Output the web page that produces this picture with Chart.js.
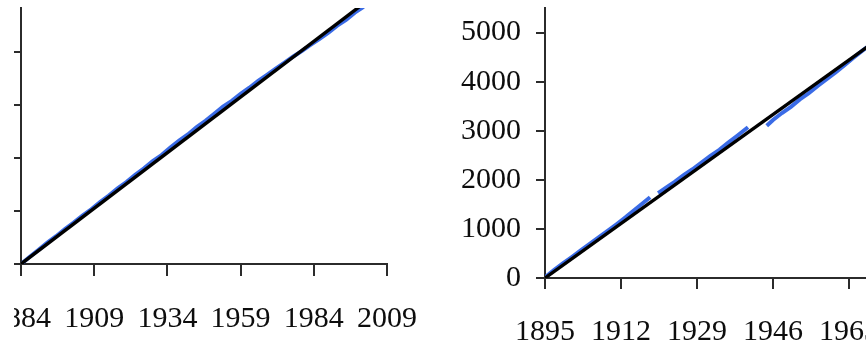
<!DOCTYPE html>
<html>
<head>
<meta charset="utf-8">
<script src="https://cdn.jsdelivr.net/npm/chart.js@4.4.1/dist/chart.umd.min.js"></script>
<style>
  html, body { margin: 0; padding: 0; background: #fff; overflow: hidden; }
  body { width: 866px; height: 347px; position: relative; }
  .panel { position: absolute; top: 0; height: 347px; overflow: hidden; }
  #leftPanel { left: 14px; width: 406px; }
  #leftPanel canvas { position: absolute; left: -74px; top: 0; }
  #rightPanel { left: 420px; width: 446px; }
  #rightPanel canvas { position: absolute; left: 0; top: 0; }
</style>
</head>
<body>
<div class="panel" id="leftPanel"><canvas id="leftChart" width="480" height="347"></canvas></div>
<div class="panel" id="rightPanel"><canvas id="rightChart" width="560" height="347"></canvas></div>
<script>
// ---- left panel: cumulative series vs. fitted trend ----
const leftYearTicks = [1884, 1909, 1934, 1959, 1984, 2009];
const leftValueTicks = [0, 1000, 2000, 3000, 4000];
const leftTrendYears = [1884, 2009];
const leftTrendValues = [0, 5250];
const leftObsYears = [1884, 1887, 1890, 1893, 1896, 1899, 1902, 1905, 1908, 1911, 1914, 1917, 1920, 1923,
  1926, 1929, 1932, 1935, 1938, 1941, 1944, 1947, 1950, 1953, 1956, 1959, 1962, 1965, 1968, 1971,
  1974, 1977, 1980, 1983, 1986, 1989, 1992, 1995, 1998, 2001];
const leftObsValues = [0, 136, 267, 403, 524, 660, 781, 912, 1033, 1169, 1290, 1426, 1547, 1683,
  1804, 1940, 2056, 2197, 2328, 2444, 2585, 2701, 2832, 2968, 3079, 3210, 3326, 3457, 3568, 3684,
  3800, 3916, 4022, 4138, 4249, 4365, 4496, 4607, 4743, 4854];

// ---- right panel: cumulative series with breaks vs. fitted trend ----
const rightYearTicks = [1895, 1912, 1929, 1946, 1963, 1980];
const rightValueTicks = [0, 1000, 2000, 3000, 4000, 5000];
const rightTrendYears = [1895, 1980];
const rightTrendValues = [0, 5551];
const rightObsYears = [1895, 1897, 1899, 1901, 1903, 1905, 1907, 1909, 1911, 1913, 1915, 1917, 1918.5,
  1919.5,
  1920.3, 1922, 1924, 1926, 1928, 1930, 1932, 1934, 1936, 1938, 1940.4,
  1942.5,
  1944.6, 1946, 1948, 1950, 1952, 1954, 1956, 1958, 1960, 1962, 1964, 1966, 1968, 1970];
const rightObsValues = [15, 161, 296, 427, 562, 693, 829, 959, 1095, 1235, 1386, 1532, 1645,
  null,
  1727, 1833, 1959, 2094, 2215, 2351, 2486, 2612, 2757, 2898, 3070,
  null,
  3100, 3220, 3361, 3487, 3637, 3763, 3913, 4049, 4190, 4335, 4486, 4631, 4767, 4897];

const AXIS = '#2b2b2b';
const TEXT = '#0d0d0d';
const FONT = { family: '"Liberation Serif", "Times New Roman", serif', size: 30 };
const BLUE = '#3a6be6';

function pairs(xs, ys) {
  return xs.map((x, i) => ({ x: x, y: ys[i] }));
}

function build(id, o) {
  return new Chart(document.getElementById(id), {
    type: 'line',
    data: {
      datasets: [
        { data: pairs(o.trendX, o.trendY), borderColor: '#000', borderWidth: 3.4,
          pointRadius: 0, tension: 0 },
        { data: pairs(o.obsX, o.obsY), borderColor: BLUE, borderWidth: 4,
          pointRadius: 0, tension: 0, spanGaps: false }
      ]
    },
    options: {
      responsive: false,
      animation: false,
      events: [],
      layout: { padding: { top: 8, right: o.padRight, left: 0, bottom: 0 } },
      plugins: { legend: { display: false }, tooltip: { enabled: false } },
      scales: {
        x: {
          type: 'linear',
          min: o.xTicks[0],
          max: o.xTicks[o.xTicks.length - 1],
          afterBuildTicks: s => { s.ticks = o.xTicks.map(v => ({ value: v })); },
          afterFit: s => { s.height = o.xHeight; s.paddingLeft = 0; s.paddingRight = 0; },
          border: { color: AXIS, width: 2 },
          grid: { drawOnChartArea: false, drawTicks: true, tickLength: o.xTickLen, color: AXIS, lineWidth: 2 },
          ticks: { font: FONT, color: TEXT, padding: o.xPad, maxRotation: 0, autoSkip: false,
                   callback: v => String(v) }
        },
        y: {
          type: 'linear',
          min: 0,
          max: o.yMax,
          afterBuildTicks: s => { s.ticks = o.yTicks.map(v => ({ value: v })); },
          afterFit: s => { s.width = o.yWidth; s.paddingTop = 0; s.paddingBottom = 0; },
          border: { color: AXIS, width: 2 },
          grid: { drawOnChartArea: false, drawTicks: true, tickLength: o.yTickLen, color: AXIS, lineWidth: 2 },
          ticks: { display: o.yLabels, font: FONT, color: TEXT, padding: 15,
                   callback: v => String(v) }
        }
      }
    }
  });
}

build('leftChart', {
  trendX: leftTrendYears, trendY: leftTrendValues,
  obsX: leftObsYears, obsY: leftObsValues,
  xTicks: leftYearTicks, yTicks: leftValueTicks, yMax: 4830,
  yWidth: 81, xHeight: 83, padRight: 33,
  xTickLen: 12, yTickLen: 9, xPad: 25, yLabels: false
});

build('rightChart', {
  trendX: rightTrendYears, trendY: rightTrendValues,
  obsX: rightObsYears, obsY: rightObsValues,
  xTicks: rightYearTicks, yTicks: rightValueTicks, yMax: 5500,
  yWidth: 125, xHeight: 69, padRight: 55,
  xTickLen: 11, yTickLen: 9, xPad: 25, yLabels: true
});
</script>
</body>
</html>
